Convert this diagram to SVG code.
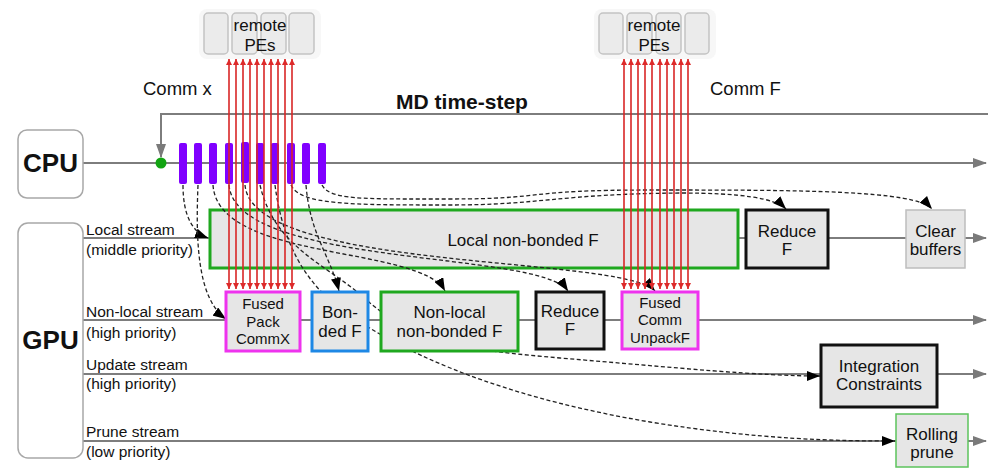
<svg xmlns="http://www.w3.org/2000/svg" width="988" height="470" viewBox="0 0 988 470">
  <defs>
    <marker id="arrGray" markerUnits="userSpaceOnUse" markerWidth="14" markerHeight="10" refX="13" refY="5" orient="auto">
      <path d="M0,0 L14,5 L0,10 z" fill="#7a7a7a"/>
    </marker>
    <marker id="arrBlack" markerUnits="userSpaceOnUse" markerWidth="13" markerHeight="10" refX="13" refY="5" orient="auto">
      <path d="M0,0 L13,5 L0,10 z" fill="#000"/>
    </marker>
    <marker id="arrRed" markerUnits="userSpaceOnUse" markerWidth="6" markerHeight="6" refX="6" refY="3" orient="auto-start-reverse">
      <path d="M0,0 L6,3 L0,6 z" fill="#dd2a2a"/>
    </marker>
    <style>
      .lbl { font-family: "Liberation Sans", Arial, sans-serif; fill: #111; }
      .big { font-size: 26px; font-weight: bold; text-anchor: middle; }
      .box { font-size: 17px; text-anchor: middle; }
      .box3 { font-size: 15px; text-anchor: middle; }
      .strm { font-size: 15.5px; }
      .head { font-size: 18.5px; }
      .tl { stroke: #7d7d7d; stroke-width: 2; fill: none; }
      .pe { fill: #ebebeb; stroke: #c4c4c4; stroke-width: 1.5; }
      .bar { fill: #8000ff; }
      .dash { fill: none; stroke: #222; stroke-width: 1.3; stroke-dasharray: 4 2.5; marker-end: url(#arrBlack); }
      .red { stroke: #d92626; stroke-width: 1.6; marker-start: url(#arrRed); marker-end: url(#arrRed); }
      .k { fill: #e6e6e6; }
    </style>
  </defs>

  <rect width="988" height="470" fill="#fff"/>

  <!-- remote processing elements -->
  <g id="remote-pes-x">
    <rect x="199" y="9" width="122" height="50" rx="8" fill="#f7f7f7"/>
    <rect class="pe" x="204" y="13" width="24" height="41" rx="4"/>
    <rect class="pe" x="232" y="13" width="25" height="41" rx="4"/>
    <rect class="pe" x="261" y="13" width="25" height="41" rx="4"/>
    <rect class="pe" x="289" y="13" width="25" height="41" rx="4"/>
    <text class="lbl box" x="260" y="31">remote</text>
    <text class="lbl box" x="260" y="51">PEs</text>
  </g>
  <g id="remote-pes-f">
    <rect x="594" y="9" width="122" height="50" rx="8" fill="#f7f7f7"/>
    <rect class="pe" x="599" y="13" width="24" height="41" rx="4"/>
    <rect class="pe" x="627" y="13" width="25" height="41" rx="4"/>
    <rect class="pe" x="656" y="13" width="25" height="41" rx="4"/>
    <rect class="pe" x="685" y="13" width="24" height="41" rx="4"/>
    <text class="lbl box" x="654" y="31">remote</text>
    <text class="lbl box" x="654" y="51">PEs</text>
  </g>

  <!-- headings -->
  <text class="lbl head" x="143" y="95">Comm x</text>
  <text class="lbl head" x="710" y="95">Comm F</text>
  <text class="lbl" x="462" y="109" font-size="21" font-weight="bold" text-anchor="middle">MD time-step</text>

  <!-- timelines -->
  <g id="timelines">
    <path class="tl" d="M988,114 H161 V157" marker-end="url(#arrGray)"/>
    <path class="tl" d="M83,163 H986" marker-end="url(#arrGray)"/>
    <path class="tl" d="M83,238 H986" marker-end="url(#arrGray)"/>
    <path class="tl" d="M83,320 H986" marker-end="url(#arrGray)"/>
    <path class="tl" d="M83,374 H986" marker-end="url(#arrGray)"/>
    <path class="tl" d="M83,441 H986" marker-end="url(#arrGray)"/>
  </g>

  <!-- stream labels -->
  <g id="stream-labels">
    <text class="lbl strm" x="86" y="235">Local stream</text>
    <text class="lbl strm" x="86" y="255">(middle priority)</text>
    <text class="lbl strm" x="86" y="317">Non-local stream</text>
    <text class="lbl strm" x="86" y="338">(high priority)</text>
    <text class="lbl strm" x="86" y="370">Update stream</text>
    <text class="lbl strm" x="86" y="389">(high priority)</text>
    <text class="lbl strm" x="86" y="437">Prune stream</text>
    <text class="lbl strm" x="86" y="457">(low priority)</text>
  </g>

  <g id="cpu">
    <rect x="18" y="130" width="65" height="68" rx="9" fill="#fff" stroke="#a8a8a8" stroke-width="1.5"/>
    <text class="lbl big" x="50.5" y="172">CPU</text>
  </g>
  <g id="gpu">
    <rect x="18" y="223" width="65" height="235" rx="10" fill="#fff" stroke="#a8a8a8" stroke-width="1.5"/>
    <text class="lbl big" x="50.5" y="349">GPU</text>
  </g>

  <g id="sync-point">
    <circle cx="161" cy="163" r="5.5" fill="#12a412"/>
  </g>

  <!-- CPU launch events -->
  <g id="launches">
    <rect class="bar" x="179" y="143" width="8" height="41" rx="2"/>
    <rect class="bar" x="194" y="143" width="8" height="41" rx="2"/>
    <rect class="bar" x="209" y="143" width="8" height="41" rx="2"/>
    <rect class="bar" x="225" y="143" width="8" height="41" rx="2"/>
    <rect class="bar" x="241" y="142" width="8" height="41" rx="2"/>
    <rect class="bar" x="256" y="143" width="8" height="41" rx="2"/>
    <rect class="bar" x="271" y="143" width="8" height="41" rx="2"/>
    <rect class="bar" x="287" y="143" width="8" height="41" rx="2"/>
    <rect class="bar" x="302" y="143" width="8" height="41" rx="2"/>
    <rect class="bar" x="318" y="143" width="8" height="41" rx="2"/>
  </g>

  <g id="local-nonbonded">
    <rect class="k" x="210" y="210" width="528" height="58" stroke="#1fa81f" stroke-width="3"/>
    <text class="lbl box" x="523" y="246">Local non-bonded F</text>
  </g>

  <g id="connectors">
    <!-- launch dependencies -->
    <path class="dash" d="M183,185 C183,215 192,232 208,238"/>
    <path class="dash" d="M198,185 C196,235 196,298 226,319"/>
    <path class="dash" d="M213,185 C218,262 420,245 445,291"/>
    <path class="dash" d="M229,185 C236,268 540,250 568,291"/>
    <path class="dash" d="M245,185 C252,272 622,255 655,291"/>
    <path class="dash" d="M260,185 C275,250 330,265 370,303 C420,345 470,350 560,358 C680,368 760,376 820,376"/>
    <path class="dash" d="M275,185 C285,262 320,300 368,327 C430,365 520,400 650,422 C760,440 840,441 895,441"/>
    <path class="dash" d="M291,185 C300,205 350,205 450,205 C540,205 560,194 680,193 C740,193 775,198 786,209"/>
    <path class="dash" d="M306,185 C310,235 330,255 339,291"/>
    <path class="dash" d="M322,185 C330,200 360,199 450,199 C550,199 520,190 650,190 C800,190 915,190 932,209"/>
    <!-- halo exchange with remote PEs -->
    <g id="comm-x">
      <line class="red" x1="229" y1="59" x2="229" y2="289"/>
      <line class="red" x1="236" y1="59" x2="236" y2="289"/>
      <line class="red" x1="243" y1="59" x2="243" y2="289"/>
      <line class="red" x1="250" y1="59" x2="250" y2="289"/>
      <line class="red" x1="257" y1="59" x2="257" y2="289"/>
      <line class="red" x1="264" y1="59" x2="264" y2="289"/>
      <line class="red" x1="271" y1="59" x2="271" y2="289"/>
      <line class="red" x1="278" y1="59" x2="278" y2="289"/>
      <line class="red" x1="285" y1="59" x2="285" y2="289"/>
      <line class="red" x1="292" y1="59" x2="292" y2="289"/>
    </g>
    <g id="comm-f">
      <line class="red" x1="624" y1="59" x2="624" y2="289"/>
      <line class="red" x1="631" y1="59" x2="631" y2="289"/>
      <line class="red" x1="638" y1="59" x2="638" y2="289"/>
      <line class="red" x1="645" y1="59" x2="645" y2="289"/>
      <line class="red" x1="652" y1="59" x2="652" y2="289"/>
      <line class="red" x1="660" y1="59" x2="660" y2="289"/>
      <line class="red" x1="667" y1="59" x2="667" y2="289"/>
      <line class="red" x1="674" y1="59" x2="674" y2="289"/>
      <line class="red" x1="681" y1="59" x2="681" y2="289"/>
      <line class="red" x1="688" y1="59" x2="688" y2="289"/>
    </g>
  </g>

  <g id="reduce-local">
    <rect class="k" x="746" y="210" width="82" height="58" stroke="#111" stroke-width="3"/>
    <text class="lbl box" x="787" y="237">Reduce</text>
    <text class="lbl box" x="787" y="255">F</text>
  </g>
  <g id="clear-buffers">
    <rect class="k" x="906" y="210" width="59" height="58" stroke="#bdbdbd" stroke-width="1.5"/>
    <text class="lbl box" x="935.5" y="237">Clear</text>
    <text class="lbl box" x="935.5" y="255">buffers</text>
  </g>
  <g id="fused-pack-commx">
    <rect class="k" x="226" y="292" width="74" height="59" stroke="#ee33ee" stroke-width="3"/>
    <text class="lbl box3" x="263" y="309">Fused</text>
    <text class="lbl box3" x="263" y="326.5">Pack</text>
    <text class="lbl box3" x="263" y="344">CommX</text>
  </g>
  <g id="bonded">
    <rect class="k" x="312" y="292" width="56" height="59" stroke="#1e88e5" stroke-width="3"/>
    <text class="lbl box" x="340" y="318">Bon-</text>
    <text class="lbl box" x="340" y="337">ded F</text>
  </g>
  <g id="nonlocal-nonbonded">
    <rect class="k" x="381" y="292" width="137" height="59" stroke="#1fa81f" stroke-width="3"/>
    <text class="lbl box" x="449.5" y="318">Non-local</text>
    <text class="lbl box" x="449.5" y="337">non-bonded F</text>
  </g>
  <g id="reduce-nonlocal">
    <rect class="k" x="536" y="292" width="68" height="57" stroke="#111" stroke-width="3"/>
    <text class="lbl box" x="570" y="317">Reduce</text>
    <text class="lbl box" x="570" y="335">F</text>
  </g>
  <g id="fused-comm-unpackf">
    <rect class="k" x="622" y="292" width="76" height="57" stroke="#ee33ee" stroke-width="3"/>
    <text class="lbl box3" x="660" y="307.5">Fused</text>
    <text class="lbl box3" x="660" y="325">Comm</text>
    <text class="lbl box3" x="660" y="342.5">UnpackF</text>
  </g>
  <g id="integration">
    <rect class="k" x="821" y="345" width="116" height="62" stroke="#111" stroke-width="3"/>
    <text class="lbl box" x="879" y="372">Integration</text>
    <text class="lbl box" x="879" y="390">Constraints</text>
  </g>
  <g id="rolling-prune">
    <rect class="k" x="896" y="414" width="72" height="53" stroke="#5cc35c" stroke-width="1.5"/>
    <text class="lbl box" x="932" y="440">Rolling</text>
    <text class="lbl box" x="932" y="458">prune</text>
  </g>
</svg>
